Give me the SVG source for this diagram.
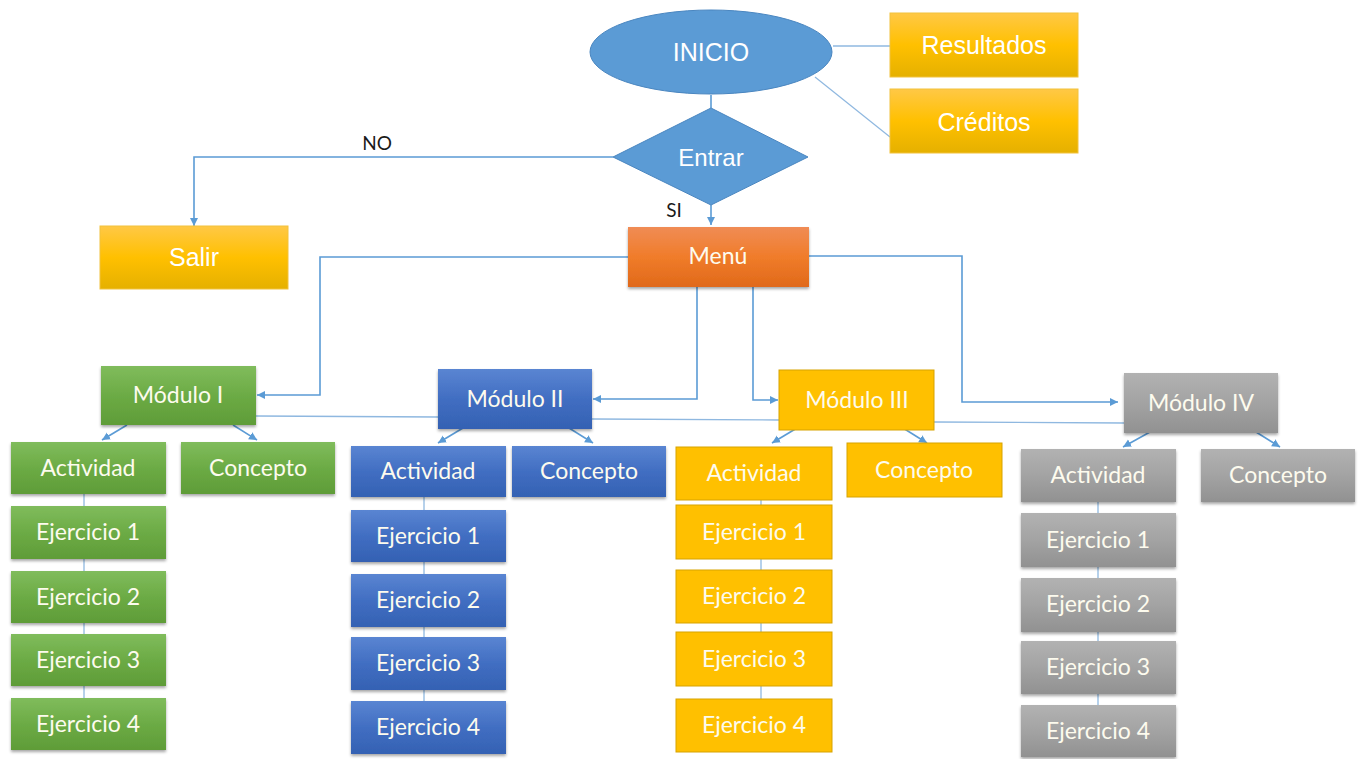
<svg xmlns="http://www.w3.org/2000/svg" width="1362" height="759" viewBox="0 0 1362 759">
<defs>
<linearGradient id="gGold" x1="0" y1="0" x2="0" y2="1"><stop offset="0" stop-color="#ffc846"/><stop offset="0.5" stop-color="#ffc000"/><stop offset="1" stop-color="#e5b000"/></linearGradient>
<linearGradient id="gOrange" x1="0" y1="0" x2="0" y2="1"><stop offset="0" stop-color="#f08c55"/><stop offset="0.5" stop-color="#f07c2a"/><stop offset="1" stop-color="#e0691a"/></linearGradient>
<linearGradient id="gGreen" x1="0" y1="0" x2="0" y2="1"><stop offset="0" stop-color="#80bc5c"/><stop offset="0.5" stop-color="#6cab45"/><stop offset="1" stop-color="#5f9c38"/></linearGradient>
<linearGradient id="gBlue" x1="0" y1="0" x2="0" y2="1"><stop offset="0" stop-color="#5a85d2"/><stop offset="0.5" stop-color="#416ec2"/><stop offset="1" stop-color="#3461b3"/></linearGradient>
<linearGradient id="gGray" x1="0" y1="0" x2="0" y2="1"><stop offset="0" stop-color="#b2b2b2"/><stop offset="0.5" stop-color="#a3a3a3"/><stop offset="1" stop-color="#919191"/></linearGradient>
<filter id="sh" x="-10%" y="-20%" width="120%" height="150%"><feDropShadow dx="0" dy="2" stdDeviation="1.5" flood-color="#000" flood-opacity="0.35"/></filter>
<marker id="arr" markerUnits="userSpaceOnUse" markerWidth="10" markerHeight="10" refX="8" refY="5" orient="auto"><path d="M0,1 L8,5 L0,9 Z" fill="#5b9bd5"/></marker>
<style>
.c{fill:none;stroke:#5b9bd5;stroke-width:1.6}
.ct{fill:none;stroke:#8fb8e0;stroke-width:1.3}
.a{marker-end:url(#arr)}
.tA{font-family:"Liberation Sans",Arial,sans-serif;font-size:25px;fill:#ffffff;text-anchor:middle}
.tC{font-family:Lato,"Open Sans",sans-serif;font-size:23px;fill:#fdfbee;text-anchor:middle}
.lbl{font-family:Lato,"Open Sans",sans-serif;font-size:19px;fill:#1a1a1a;text-anchor:middle}
.gold{fill:url(#gGold);stroke:#f2c23c;stroke-width:1}
.grn{fill:url(#gGreen);filter:url(#sh)}
.blu{fill:url(#gBlue);filter:url(#sh)}
.gry{fill:url(#gGray);filter:url(#sh)}
.yel{fill:#ffc000;stroke:#d7a300;stroke-width:1}
</style>
</defs>
<rect width="1362" height="759" fill="#ffffff"/>
<g id="connectors">
<line class="c" x1="711" y1="95" x2="711" y2="108"/>
<line class="ct" x1="833" y1="46" x2="890" y2="46"/>
<line class="ct" x1="815" y1="77" x2="890" y2="137"/>
<polyline class="c a" points="613,157 194,157 194,226"/>
<line class="c a" x1="711" y1="205" x2="711" y2="225"/>
<polyline class="c a" points="628,257 320,257 320,395 257,395"/>
<polyline class="c a" points="697,287 697,399 593,399"/>
<polyline class="c a" points="753,287 753,400 778,400"/>
<polyline class="c a" points="809,256 962,256 962,402 1118,402"/>
<polyline class="ct" points="256,416 438,417 593,419 779,420 934,422 1124,423"/>
<line class="c a" x1="127" y1="425" x2="102" y2="440"/>
<line class="c a" x1="233" y1="425" x2="257" y2="440"/>
<line class="c a" x1="463" y1="428" x2="438" y2="443"/>
<line class="c a" x1="569" y1="428" x2="593" y2="443"/>
<line class="c a" x1="797" y1="428" x2="772" y2="443"/>
<line class="c a" x1="903" y1="428" x2="927" y2="443"/>
<line class="c a" x1="1150" y1="432" x2="1123" y2="447"/>
<line class="c a" x1="1256" y1="432" x2="1280" y2="447"/>
<line class="ct" x1="84" y1="494" x2="84" y2="698"/>
<line class="ct" x1="424" y1="497" x2="424" y2="701"/>
<line class="ct" x1="761" y1="500" x2="761" y2="699"/>
<line class="ct" x1="1098" y1="502" x2="1098" y2="705"/>
</g>
<g id="inicio"><ellipse cx="711" cy="52" rx="121" ry="42" fill="#5b9bd5" stroke="#4a86c0" stroke-width="1"/><text class="tA" x="711" y="61">INICIO</text></g>
<g id="resultados"><rect class="gold" x="890" y="13" width="188" height="64"/><text class="tA" x="984" y="54">Resultados</text></g>
<g id="creditos"><rect class="gold" x="890" y="89" width="188" height="64"/><text class="tA" x="984" y="131">Créditos</text></g>
<g id="entrar"><polygon points="711,108 808,157 711,205 613,157" fill="#5b9bd5" stroke="#4a86c0" stroke-width="1"/><text class="tA" x="711" y="166" style="font-size:24px">Entrar</text></g>
<g id="salir"><rect class="gold" x="100" y="226" width="188" height="63"/><text class="tA" x="194" y="266">Salir</text></g>
<g id="menu"><rect x="628" y="227" width="181" height="60" fill="url(#gOrange)" filter="url(#sh)"/><text class="tC" x="718" y="264">Menú</text></g>
<text class="lbl" x="377" y="150">NO</text>
<text class="lbl" x="674" y="217">SI</text>
<g id="modulo1"><rect class="grn" x="101" y="366" width="155" height="59"/><text class="tC" x="178" y="403">Módulo I</text></g>
<g id="actividad1"><rect class="grn" x="11" y="442" width="155" height="52"/><text class="tC" x="88" y="476">Actividad</text></g>
<g id="concepto1"><rect class="grn" x="181" y="442" width="154" height="52"/><text class="tC" x="258" y="476">Concepto</text></g>
<g id="ej1_1"><rect class="grn" x="11" y="506" width="155" height="53"/><text class="tC" x="88" y="540">Ejercicio 1</text></g>
<g id="ej1_2"><rect class="grn" x="11" y="571" width="155" height="52"/><text class="tC" x="88" y="605">Ejercicio 2</text></g>
<g id="ej1_3"><rect class="grn" x="11" y="634" width="155" height="52"/><text class="tC" x="88" y="668">Ejercicio 3</text></g>
<g id="ej1_4"><rect class="grn" x="11" y="698" width="155" height="52"/><text class="tC" x="88" y="732">Ejercicio 4</text></g>
<g id="modulo2"><rect class="blu" x="438" y="369" width="154" height="60"/><text class="tC" x="515" y="407">Módulo II</text></g>
<g id="actividad2"><rect class="blu" x="351" y="446" width="155" height="51"/><text class="tC" x="428" y="479">Actividad</text></g>
<g id="concepto2"><rect class="blu" x="512" y="446" width="154" height="51"/><text class="tC" x="589" y="479">Concepto</text></g>
<g id="ej2_1"><rect class="blu" x="351" y="510" width="155" height="52"/><text class="tC" x="428" y="544">Ejercicio 1</text></g>
<g id="ej2_2"><rect class="blu" x="351" y="574" width="155" height="53"/><text class="tC" x="428" y="608">Ejercicio 2</text></g>
<g id="ej2_3"><rect class="blu" x="351" y="637" width="155" height="53"/><text class="tC" x="428" y="671">Ejercicio 3</text></g>
<g id="ej2_4"><rect class="blu" x="351" y="701" width="155" height="53"/><text class="tC" x="428" y="735">Ejercicio 4</text></g>
<g id="modulo3"><rect class="yel" x="779" y="370" width="155" height="60"/><text class="tC" x="857" y="408">Módulo III</text></g>
<g id="actividad3"><rect class="yel" x="676" y="447" width="156" height="53"/><text class="tC" x="754" y="481">Actividad</text></g>
<g id="concepto3"><rect class="yel" x="847" y="443" width="155" height="54"/><text class="tC" x="924" y="478">Concepto</text></g>
<g id="ej3_1"><rect class="yel" x="676" y="505" width="156" height="54"/><text class="tC" x="754" y="540">Ejercicio 1</text></g>
<g id="ej3_2"><rect class="yel" x="676" y="570" width="156" height="53"/><text class="tC" x="754" y="604">Ejercicio 2</text></g>
<g id="ej3_3"><rect class="yel" x="676" y="632" width="156" height="54"/><text class="tC" x="754" y="667">Ejercicio 3</text></g>
<g id="ej3_4"><rect class="yel" x="676" y="699" width="156" height="53"/><text class="tC" x="754" y="733">Ejercicio 4</text></g>
<g id="modulo4"><rect class="gry" x="1124" y="373" width="154" height="60"/><text class="tC" x="1201" y="411">Módulo IV</text></g>
<g id="actividad4"><rect class="gry" x="1021" y="449" width="155" height="53"/><text class="tC" x="1098" y="483">Actividad</text></g>
<g id="concepto4"><rect class="gry" x="1201" y="449" width="154" height="53"/><text class="tC" x="1278" y="483">Concepto</text></g>
<g id="ej4_1"><rect class="gry" x="1021" y="513" width="155" height="54"/><text class="tC" x="1098" y="548">Ejercicio 1</text></g>
<g id="ej4_2"><rect class="gry" x="1021" y="578" width="155" height="54"/><text class="tC" x="1098" y="612">Ejercicio 2</text></g>
<g id="ej4_3"><rect class="gry" x="1021" y="641" width="155" height="53"/><text class="tC" x="1098" y="675">Ejercicio 3</text></g>
<g id="ej4_4"><rect class="gry" x="1021" y="705" width="155" height="52"/><text class="tC" x="1098" y="739">Ejercicio 4</text></g>
</svg>
